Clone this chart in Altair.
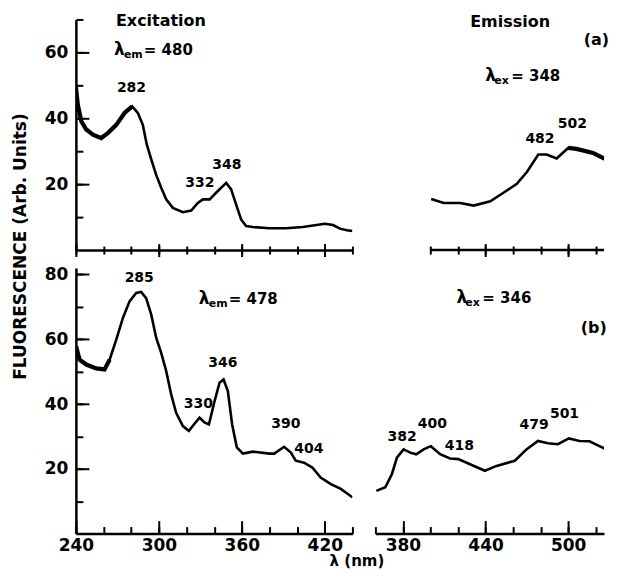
import altair as alt
import pandas as pd

# ---------------- data ----------------
# (a) excitation spectrum, lambda_em = 480
a_exc_wl = [240, 241.4, 243.9, 247.5, 252.3, 258.3, 263.1, 269.2, 275.2, 280.7, 284.8, 288.4,
            291.3, 294.5, 298, 301.7, 305.3, 310.1, 317.4, 323.4, 328.2, 331.8, 336.7, 341.4,
            348.7, 352.3, 355.9, 359.5, 363.1, 368, 380, 392, 404, 414, 420, 426, 431, 436, 440]
a_exc_val = [49.5, 44.1, 39.1, 36.6, 35, 34, 35.5, 38, 41.6, 43.6, 41.6, 38,
             32, 27.5, 22.9, 18.9, 15.4, 12.8, 11.5, 12, 14.3, 15.4, 15.4, 17.4,
             20.4, 18.4, 13.8, 9.3, 7.3, 7, 6.6, 6.6, 7, 7.6, 8, 7.6, 6.5, 6, 5.8]

# (a) emission spectrum, lambda_ex = 348
a_em_wl = [400.5, 409.6, 421.7, 431.3, 443.4, 453, 462.7, 470, 478.3, 484.4, 491.6, 500,
           506, 518, 527.7, 533]
a_em_val = [15.5, 14.3, 14.3, 13.5, 14.8, 17.4, 20.1, 23.7, 29, 29, 27.8, 31,
            30.7, 29.5, 27.5, 26.5]

# (b) excitation spectrum, lambda_em = 478
b_exc_wl = [240.2, 242.7, 247.5, 254.7, 260.7, 264.4, 269.2, 274, 278.8, 283.6, 287.2, 290.8,
            294.5, 298.1, 301.7, 305.3, 308.9, 312.5, 317.4, 321.7, 325.8, 329.4, 333, 336.2,
            340.3, 343.9, 346.8, 349.9, 353, 356.4, 360.8, 368, 380, 383.4, 390.6, 395.5,
            399, 405, 411, 417, 424.4, 431.6, 440]
b_exc_val = [57.8, 53.7, 52.2, 51, 50.7, 53.7, 59.9, 66.6, 71.7, 74.3, 74.6, 72.7,
             67.6, 60.4, 55.8, 50.2, 43, 37.3, 33.2, 31.7, 33.9, 35.8, 34.3, 33.7,
             40.9, 46.6, 47.6, 44, 33.7, 26.6, 24.7, 25.3, 24.7, 24.7, 26.8, 25,
             22.5, 21.9, 20.4, 17.3, 15.3, 13.8, 11.2]

# (b) emission spectrum, lambda_ex = 346
b_em_wl = [360.7, 367.2, 372, 375.7, 380.5, 385.3, 389.6, 395, 400.3, 407, 414.2, 420.2,
           428.7, 439.5, 448, 461.2, 469.7, 478, 485.3, 492.5, 500.5, 508.2, 515.5, 522.7, 533]
b_em_val = [13.2, 14.3, 18.4, 23.5, 26, 25, 24.5, 26, 27, 24.5, 23.2, 23,
            21.4, 19.4, 20.9, 22.5, 26, 28.6, 27.9, 27.6, 29.4, 28.6, 28.5, 27, 24.9]

# peak labels (text, wavelength, value)
a_exc_peak_text = ["282", "332", "348"]
a_exc_peak_x = [280.2, 329.7, 349.2]
a_exc_peak_y = [49.2, 20.3, 25.8]
a_em_peak_text = ["482", "502"]
a_em_peak_x = [479.5, 503]
a_em_peak_y = [33.8, 38.2]
b_exc_peak_text = ["285", "346", "330", "390", "404"]
b_exc_peak_x = [285.8, 346.3, 328.6, 391.8, 408.5]
b_exc_peak_y = [78.9, 52.8, 39.9, 33.7, 26]
b_em_peak_text = ["382", "400", "418", "479", "501"]
b_em_peak_x = [379.4, 401.4, 421, 475.2, 497.3]
b_em_peak_y = [29.8, 33.8, 27, 33.5, 36.9]

# headings (text, wavelength, value)
a_exc_head = ("Excitation", 301.5, 69.4)
a_em_head = ("Emission", 457.8, 69.1)
a_tag = ("(a)", 520.5, 63.8)
b_tag = ("(b)", 518.5, 63.5)

# lambda settings: (subscript, value, wavelength, level)
a_exc_lambda = ("em", "480", 267.5, 60.6)
a_em_lambda = ("ex", "348", 439.8, 52.7)
b_exc_lambda = ("em", "478", 328.9, 72.3)
b_em_lambda = ("ex", "346", 418.8, 72.6)

# axis ranges and ticks
exc_range = [240, 440]
a_em_axis = [400, 526]
em_range = [360, 526]
a_range = [0, 70]
b_range = [0, 82]
exc_ticks = [240, 260, 280, 300, 320, 340, 360, 380, 400, 420, 440]
exc_major = [240, 300, 360, 420]
a_em_ticks = [400, 420, 440, 460, 480, 500, 520]
a_em_major = [440, 500]
b_em_ticks = [360, 380, 400, 420, 440, 460, 480, 500, 520]
em_major = [380, 440, 500]
a_y_ticks = [10, 20, 30, 40, 50, 60, 70]
a_y_major = [20, 40, 60]
b_y_ticks = [10, 20, 30, 40, 50, 60, 70, 80]
b_y_major = [20, 40, 60, 80]

FONT = "DejaVu Sans"
INK = "black"


def tick_axis(orient, values, size, offset):
    return alt.Axis(orient=orient, values=values, labels=False, domain=False, ticks=True,
                    tickSize=size, tickWidth=2, tickColor=INK, offset=offset, grid=False,
                    title="")


def panel(wl, val, xdom, ydom, w, h, x_all, x_major, x_labels, y_all, y_major, cross,
          noisy, peaks, heads, lam, y_title="", x_title="", axis_span=None):
    df = pd.DataFrame({"wl": wl, "val": val})
    xs = alt.Scale(domain=xdom, nice=False, zero=False)
    ys = alt.Scale(domain=ydom, nice=False, zero=False)
    if cross:
        mn, mj, mno, mjo = 8, 13, -4, -6.5
    else:
        mn, mj, mno, mjo = 7, 13, -7, -13

    xkw = dict(orient="bottom", ticks=False, tickSize=0, domain=axis_span is None,
               domainWidth=2.5, domainColor=INK, grid=False, labelFont=FONT,
               labelFontSize=17, labelFontWeight="bold", labelColor=INK, labelPadding=4,
               labelFlush=False, labelOverlap=False, title=x_title)
    if x_labels:
        xkw.update(values=x_labels, labels=True)
    else:
        xkw.update(values=x_all, labels=False)
    if x_title:
        xkw.update(titleFont=FONT, titleFontSize=15, titleFontWeight="bold", titleColor=INK,
                   titleX=281, titleY=27, titleAlign="center", titleBaseline="middle")
    main_x = alt.Axis(**xkw)

    if y_all:
        ykw = dict(orient="left", values=y_major, ticks=False, tickSize=0, domain=True,
                   domainWidth=2.5, domainColor=INK, grid=False, labelFont=FONT,
                   labelFontSize=17, labelFontWeight="bold", labelColor=INK, labelPadding=8,
                   labelFlush=False, labelOverlap=False, title=y_title)
        if y_title:
            ykw.update(titleFont=FONT, titleFontSize=17, titleFontWeight="bold",
                       titleColor=INK, titleX=-55, titleY=227, titleAngle=270,
                       titleAlign="center", titleBaseline="middle")
        main_y = alt.Axis(**ykw)
        minor_y = tick_axis("left", y_all, 7, -7)
        major_y = tick_axis("left", y_major, 13, -13)
    else:
        main_y = minor_y = major_y = None

    base = alt.Chart(df)
    layers = [
        base.mark_line(color=INK, strokeWidth=2.6, clip=True).encode(
            x=alt.X("wl:Q", scale=xs, axis=main_x), y=alt.Y("val:Q", scale=ys, axis=main_y)),
        base.mark_line(strokeOpacity=0).encode(
            x=alt.X("wl:Q", scale=xs, axis=tick_axis("bottom", x_all, mn, mno)),
            y=alt.Y("val:Q", scale=ys, axis=minor_y)),
        base.mark_line(strokeOpacity=0).encode(
            x=alt.X("wl:Q", scale=xs, axis=tick_axis("bottom", x_major, mj, mjo)),
            y=alt.Y("val:Q", scale=ys, axis=major_y)),
    ]
    if axis_span is not None:
        sdf = pd.DataFrame({"x": [axis_span[0]], "x2": [axis_span[1]], "y": [ydom[0]]})
        layers.append(alt.Chart(sdf).mark_rule(color=INK, strokeWidth=2.5).encode(
            x=alt.X("x:Q", scale=xs, axis=None), x2="x2:Q",
            y=alt.Y("y:Q", scale=ys, axis=None)))
    if noisy:
        lo, hi = noisy
        layers.append(base.transform_filter(
            (alt.datum.wl >= lo) & (alt.datum.wl <= hi)).mark_line(
            color=INK, strokeWidth=4.2, clip=True).encode(
            x=alt.X("wl:Q", scale=xs, axis=None), y=alt.Y("val:Q", scale=ys, axis=None)))

    ptxt, px, py = peaks
    pdf = pd.DataFrame({"t": ptxt, "x": px, "y": py})
    layers.append(alt.Chart(pdf).mark_text(font=FONT, fontSize=14, fontWeight="bold",
                                           color=INK).encode(
        x=alt.X("x:Q", scale=xs, axis=None), y=alt.Y("y:Q", scale=ys, axis=None), text="t:N"))

    for (t, hx, hy, size) in heads:
        hdf = pd.DataFrame({"t": [t], "x": [hx], "y": [hy]})
        layers.append(alt.Chart(hdf).mark_text(font=FONT, fontSize=size, fontWeight="bold",
                                               color=INK).encode(
            x=alt.X("x:Q", scale=xs, axis=None), y=alt.Y("y:Q", scale=ys, axis=None),
            text="t:N"))

    sub, valtxt, lx, ly = lam
    ldf = pd.DataFrame({"sym": ["λ"], "sub": [sub], "v": ["= " + valtxt], "x": [lx], "y": [ly]})
    sub_dx = 10 if sub == "em" else 9
    eq_dx = 30 if sub == "em" else 26
    lbase = alt.Chart(ldf).encode(x=alt.X("x:Q", scale=xs, axis=None),
                                  y=alt.Y("y:Q", scale=ys, axis=None))
    layers.append(lbase.mark_text(font=FONT, fontSize=17, fontWeight="bold", color=INK,
                                  align="left").encode(text="sym:N"))
    layers.append(lbase.mark_text(font=FONT, fontSize=11, fontWeight="bold", color=INK,
                                  align="left", dx=sub_dx, dy=5).encode(text="sub:N"))
    layers.append(lbase.mark_text(font=FONT, fontSize=15, fontWeight="bold", color=INK,
                                  align="left", dx=eq_dx).encode(text="v:N"))

    return alt.layer(*layers).resolve_axis(x="independent", y="independent").properties(
        width=w, height=h, view=alt.ViewBackground(stroke=None))


pa1 = panel(a_exc_wl, a_exc_val, exc_range, a_range, 277, 231, exc_ticks, exc_major, None,
            a_y_ticks, a_y_major, True, (240, 282),
            (a_exc_peak_text, a_exc_peak_x, a_exc_peak_y),
            [(a_exc_head[0], a_exc_head[1], a_exc_head[2], 16)], a_exc_lambda,
            y_title="FLUORESCENCE  (Arb. Units)")
pa2 = panel(a_em_wl, a_em_val, em_range, a_range, 229, 231, a_em_ticks, a_em_major, None,
            None, None, True, (495, 533),
            (a_em_peak_text, a_em_peak_x, a_em_peak_y),
            [(a_em_head[0], a_em_head[1], a_em_head[2], 16), (a_tag[0], a_tag[1], a_tag[2], 16)],
            a_em_lambda, axis_span=a_em_axis)
pb1 = panel(b_exc_wl, b_exc_val, exc_range, b_range, 277, 266, exc_ticks, exc_major,
            exc_major, b_y_ticks, b_y_major, False, (240, 265),
            (b_exc_peak_text, b_exc_peak_x, b_exc_peak_y), [], b_exc_lambda,
            x_title="λ  (nm)")
pb2 = panel(b_em_wl, b_em_val, em_range, b_range, 229, 266, b_em_ticks, em_major, em_major,
            None, None, False, None,
            (b_em_peak_text, b_em_peak_x, b_em_peak_y),
            [(b_tag[0], b_tag[1], b_tag[2], 16)], b_em_lambda)

chart = alt.concat(pa1, pa2, pb1, pb2, columns=2, spacing={"row": 18, "column": 23},
                   bounds="flush", align="each").properties(
    padding={"left": 3, "top": 4, "right": 0, "bottom": 0}
).configure(font=FONT)

chart.save("out.html", embed_options={"renderer": "svg", "actions": False})
